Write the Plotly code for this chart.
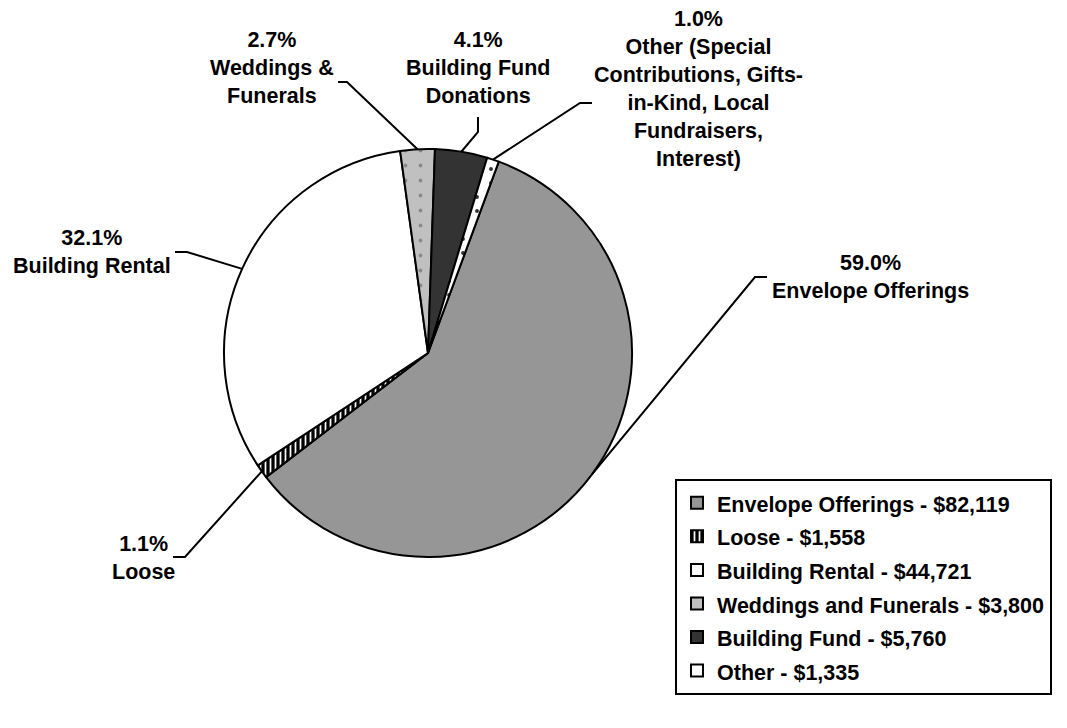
import math
import plotly.graph_objects as go

# ---- data ----
categories = ["Envelope Offerings", "Loose", "Building Rental",
              "Weddings and Funerals", "Building Fund", "Other"]
amounts = [82119, 1558, 44721, 3800, 5760, 1335]
slice_labels = ["Envelope Offerings", "Loose", "Building Rental",
                "Weddings &<br>Funerals", "Building Fund<br>Donations",
                "Other (Special<br>Contributions, Gifts-<br>in-Kind, Local<br>Fundraisers,<br>Interest)"]

# ---- styling / layout constants ----
OFF = 8                             # page body margin of the html page
W, H = 1067 - OFF, 728 - OFF
CX, CY, R = 428, 353, 204           # pie centre and radius in screen pixels
ROTATION = 20.3                     # start angle of first slice (clockwise from 12 o'clock)
FONT = "Arial, Liberation Sans, sans-serif"

colors = ["#969696", "#000000", "#ffffff", "#c0c0c0", "#333333", "#ffffff"]
pat_shape = ["", "|", "", ".", "", "."]
pat_fg = ["#969696", "#ffffff", "#ffffff", "#8a8a8a", "#333333", "#333333"]
pat_bg = ["#969696", "#000000", "#ffffff", "#c0c0c0", "#333333", "#ffffff"]
pat_size = [8, 5, 8, 15, 8, 14]
pat_solid = [0.3, 0.35, 0.3, 0.05, 0.3, 0.06]

# label placement (screen pixels): label centre, elbow point, segment end near label
label_pos = [(870, 277), (143, 558), (92, 252), (272, 68), (478, 68), (698, 89)]
elbows = [(755, 277), (185, 557), (187, 252), (347, 82), (478, 132), (580, 103)]
ends = [(767, 277), (173, 557), (175, 252), (338, 82), (478, 117), (592, 103)]


def px_to_paper(x, y):
    return (x - OFF) / W, 1 - (y - OFF) / H


total = sum(amounts)
legend_text = [f'<span style="font-size:21.5px">{c} - ${v:,}</span>'
               for c, v in zip(categories, amounts)]

x0, y1 = px_to_paper(CX - R, CY - R)
x1, y0 = px_to_paper(CX + R, CY + R)

fig = go.Figure(go.Pie(
    labels=legend_text,
    values=amounts,
    sort=False,
    direction="clockwise",
    rotation=ROTATION,
    textinfo="none",
    hoverinfo="none",
    marker=dict(
        colors=colors,
        line=dict(color="#000000", width=2),
        pattern=dict(shape=pat_shape, fgcolor=pat_fg, bgcolor=pat_bg,
                     size=pat_size, solidity=pat_solid, fillmode="replace"),
    ),
    domain=dict(x=[x0, x1], y=[y0, y1]),
))

shapes = []
annotations = []
cum = 0.0
for i, v in enumerate(amounts):
    frac = v / total
    mid = math.radians(ROTATION + (cum + frac / 2) * 360)
    cum += frac
    ex, ey = CX + R * math.sin(mid), CY - R * math.cos(mid)
    pts = [(ex, ey), elbows[i], ends[i]]
    path = "M " + " L ".join(
        "{:.5f},{:.5f}".format(*px_to_paper(x, y)) for x, y in pts)
    shapes.append(dict(type="path", xref="paper", yref="paper", path=path,
                       line=dict(color="#000000", width=2)))
    lx, ly = px_to_paper(*label_pos[i])
    annotations.append(dict(
        x=lx, y=ly, xref="paper", yref="paper", showarrow=False,
        xanchor="center", yanchor="middle", align="center",
        text=f"{frac * 100:.1f}%<br>{slice_labels[i]}",
        font=dict(family=FONT, size=21.5, color="#000000", weight="bold"),
    ))

lgx, lgy = px_to_paper(1052, 479)
fig.update_layout(
    width=W, height=H,
    margin=dict(l=0, r=0, t=0, b=0),
    paper_bgcolor="#ffffff", plot_bgcolor="#ffffff",
    shapes=shapes, annotations=annotations,
    showlegend=True,
    legend=dict(
        x=lgx, xanchor="right", y=lgy, yanchor="top",
        bordercolor="#000000", borderwidth=2, bgcolor="#ffffff",
        font=dict(family=FONT, size=23.5, color="#000000", weight="bold"),
        itemwidth=30, traceorder="normal",
    ),
)

fig.write_html("out.html")
